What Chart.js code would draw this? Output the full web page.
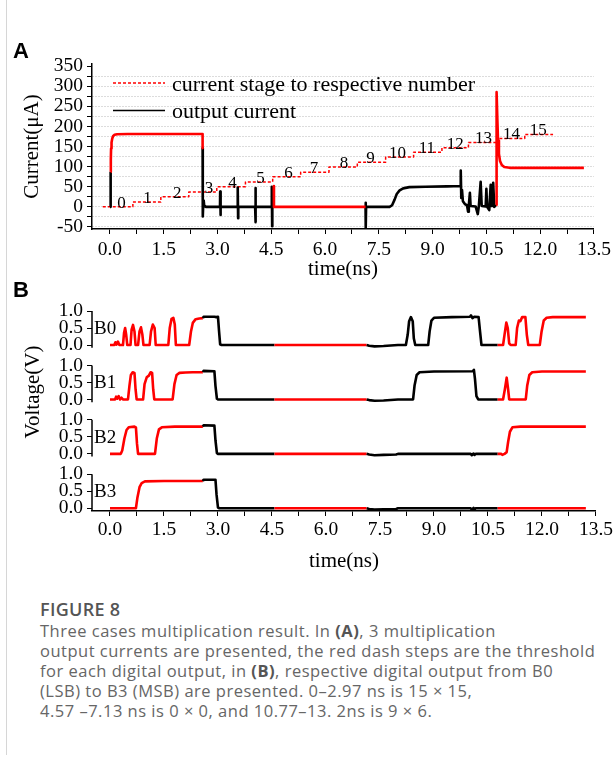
<!DOCTYPE html>
<html>
<head>
<meta charset="utf-8">
<script src="https://cdn.jsdelivr.net/npm/chart.js@4.4.1/dist/chart.umd.min.js"></script>
<style>
html,body{margin:0;padding:0;background:#fff;}
#wrap{position:relative;width:615px;height:760px;overflow:hidden;background:#fff;}
#cA{position:absolute;left:0;top:0;}
#cB{position:absolute;left:0;top:285px;}
.panel{position:absolute;font-family:"Liberation Sans",Arial,sans-serif;font-weight:bold;font-size:22px;line-height:22px;color:#000;}
#frameL{position:absolute;left:6px;top:0;width:1px;height:755px;background:#d6d6d6;}
#cap{position:absolute;left:40px;top:598px;font-family:"Open Sans","Noto Sans",sans-serif;color:#666;font-size:16.5px;letter-spacing:0.5px;line-height:20px;white-space:nowrap;}
#cap .fig{font-size:18px;line-height:22px;font-weight:600;color:#555;letter-spacing:0.3px;margin-bottom:1px;}
#cap b{color:#555;font-weight:700;}
</style>
</head>
<body>
<div id="wrap">
  <div id="frameL"></div>
  <canvas id="cA" width="615" height="290"></canvas>
  <canvas id="cB" width="615" height="300"></canvas>
  <div class="panel" style="left:13px;top:40px;">A</div>
  <div class="panel" style="left:13px;top:279px;">B</div>
  <div id="cap">
    <div class="fig">FIGURE 8</div>
    <div>Three cases multiplication result. In <b>(A)</b>, 3 multiplication</div>
    <div>output currents are presented, the red dash steps are the threshold</div>
    <div>for each digital output, in <b>(B)</b>, respective digital output from B0</div>
    <div>(LSB) to B3 (MSB) are presented. 0–2.97 ns is 15 × 15,</div>
    <div>4.57 –7.13 ns is 0 × 0, and 10.77–13. 2ns is 9 × 6.</div>
  </div>
</div>
<script>
// ---------- axis ticks ----------
const timeTicks = [0,0.75,1.5,2.25,3,3.75,4.5,5.25,6,6.75,7.5,8.25,9,9.75,10.5,11.25,12,12.75,13.5];
const currentTicks = [-50,-25,0,25,50,75,100,125,150,175,200,225,250,275,300,325,350];
const voltTicks = [0,0.5,1];

// ---------- panel A: threshold steps ----------
const stageNumbers = [0,1,2,3,4,5,6,7,8,9,10,11,12,13,14,15];
const stageLevels = [0,12,25,37,50,62,75,86,99,111,124,136,147,160,170,180];
const stageEdges = [-0.2,0.64,1.42,2.2,2.98,3.78,4.54,5.32,6.11,6.9,7.69,8.47,9.26,10.0,10.83,11.57,12.36];
const stageLabelTimes = [0.32,1.05,1.88,2.76,3.42,4.2,4.98,5.69,6.53,7.27,8.02,8.84,9.63,10.42,11.2,11.95];

// ---------- panel A: output current (time ns, current uA) ----------
const outputRedSegments = [
  [[0.02,87],[0.025,118],[0.032,145],[0.045,160],[0.065,170],[0.09,176],[0.13,179],[0.2,180.5],[0.5,181],[2.585,181],[2.585,146]],
  [[4.57,52],[4.575,0],[7.13,0]],
  [[10.77,5],[10.78,150],[10.79,285],[10.805,220],[10.825,165],[10.85,132],[10.88,114],[10.93,104],[11.0,99],[11.15,97],[13.22,97]]
];
const outputBlackSegments = [
  [[0,0],[0.02,0],[0.02,87]],
  [[2.585,146],[2.59,-24],[2.6,0],[2.615,16],[2.63,3],[2.68,0],[3.07,0],[3.075,38],[3.085,-20],[3.09,0],[3.56,0],[3.565,48],[3.575,-28],[3.58,0],[4.05,0],[4.055,47],[4.065,-38],[4.07,0],[4.51,0],[4.515,50],[4.525,-48],[4.53,0],[4.57,0]],
  [[7.13,0],[7.132,10],[7.138,-52],[7.145,0],[7.8,0],[7.87,4],[7.94,18],[8.0,32],[8.08,41],[8.18,46],[8.35,49],[8.8,50],[9.4,51],[9.78,52],[9.785,90],[9.8,22],[9.82,42],[9.845,14],[9.9,7],[9.96,4],[9.99,-12],[10.01,4],[10.04,35],[10.06,2],[10.2,1],[10.26,-18],[10.29,2],[10.34,62],[10.37,2],[10.48,1],[10.5,45],[10.52,0],[10.58,-8],[10.62,55],[10.65,2],[10.69,60],[10.72,0],[10.77,5]]
];

// ---------- panel B: digital outputs (time ns, voltage V) ----------
const bitNames = ['B0','B1','B2','B3'];
const bitRowOffsets = [4.8,3.2,1.6,0];
const blackWindows = [[2.58,4.57],[7.13,10.77]];
const bit0 = [[0,0],[0.12,0],[0.15,0.08],[0.18,0.01],[0.22,0.1],[0.26,0],[0.36,0],[0.39,0.35],[0.42,0.5],[0.45,0.3],[0.48,0],[0.57,0],[0.6,0.45],[0.64,0.59],[0.68,0.4],[0.71,0],[0.78,0],[0.82,0.4],[0.86,0.52],[0.9,0.3],[0.93,0],[1.1,0],[1.14,0.4],[1.19,0.6],[1.24,0.5],[1.27,0],[1.62,0],[1.66,0.5],[1.71,0.77],[1.76,0.8],[1.8,0.6],[1.83,0],[2.2,0],[2.25,0.4],[2.3,0.65],[2.38,0.76],[2.48,0.78],[2.58,0.79],[2.6,0.83],[2.9,0.83],[2.95,0.82],[3.0,0.83],[3.03,0.4],[3.06,0.02],[3.1,0],[4.57,0],[7.13,0],[7.2,-0.02],[7.35,-0.04],[7.6,-0.03],[8.0,0],[8.22,0],[8.27,0.3],[8.31,0.7],[8.36,0.82],[8.41,0.7],[8.44,0.2],[8.48,0],[8.84,0],[8.88,0.4],[8.93,0.72],[9.0,0.8],[9.5,0.82],[10.0,0.83],[10.03,0.87],[10.07,0.79],[10.12,0.83],[10.24,0.82],[10.28,0.4],[10.32,0],[10.77,0],[10.92,0],[10.96,0.3],[11.01,0.66],[11.05,0.5],[11.09,0.05],[11.13,0],[11.27,0],[11.31,0.5],[11.36,0.72],[11.4,0.7],[11.45,0.82],[11.54,0.82],[11.58,0.3],[11.62,0],[11.94,0],[11.99,0.4],[12.05,0.72],[12.13,0.8],[12.3,0.82],[13.22,0.82]];
const bit1 = [[0,0],[0.14,0],[0.17,0.08],[0.2,0.02],[0.24,0.1],[0.28,0],[0.32,0.05],[0.36,0],[0.5,0],[0.54,0.4],[0.58,0.72],[0.63,0.8],[0.68,0.78],[0.71,0.3],[0.74,0],[0.92,0],[0.96,0.45],[1.02,0.65],[1.08,0.7],[1.13,0.8],[1.17,0.78],[1.2,0.3],[1.23,0],[1.74,0],[1.79,0.45],[1.85,0.72],[1.93,0.78],[2.1,0.79],[2.3,0.8],[2.58,0.8],[2.6,0.84],[2.9,0.83],[2.93,0.4],[2.97,0.02],[3.0,0],[4.57,0],[7.13,0],[7.2,-0.02],[7.35,-0.04],[7.6,-0.03],[8.0,0],[8.42,0],[8.46,0.4],[8.52,0.72],[8.6,0.8],[9.0,0.82],[10.08,0.83],[10.11,0.87],[10.14,0.6],[10.18,0.1],[10.23,0],[10.77,0],[10.92,0],[10.97,0.3],[11.02,0.64],[11.06,0.3],[11.09,0],[11.55,0],[11.59,0.4],[11.65,0.72],[11.73,0.8],[12.0,0.82],[13.22,0.82]];
const bit2 = [[0,0],[0.3,0],[0.34,0.1],[0.4,0.45],[0.46,0.7],[0.52,0.78],[0.68,0.8],[0.72,0.78],[0.75,0.3],[0.78,0],[1.25,0],[1.3,0.45],[1.36,0.72],[1.44,0.78],[1.8,0.8],[2.58,0.8],[2.6,0.84],[2.9,0.83],[2.93,0.4],[2.97,0.02],[3.0,0],[4.57,0],[7.13,0],[7.2,-0.02],[7.35,-0.04],[7.6,-0.03],[7.95,-0.02],[8.0,0],[10.02,0],[10.05,-0.04],[10.1,0.01],[10.13,-0.03],[10.16,0],[10.77,0],[10.87,0],[10.9,-0.03],[10.96,0],[11.02,0.05],[11.06,0.35],[11.11,0.65],[11.18,0.78],[11.4,0.8],[13.22,0.8]];
const bit3 = [[0,0],[0.72,0],[0.76,0.3],[0.82,0.62],[0.88,0.74],[0.97,0.79],[1.5,0.8],[2.58,0.8],[2.6,0.84],[2.93,0.84],[2.96,0.4],[3.0,0.02],[3.04,0],[4.57,0],[7.13,0],[7.2,-0.02],[7.35,-0.04],[7.6,-0.03],[7.95,-0.02],[8.0,0],[10.02,0],[10.05,-0.04],[10.1,0.01],[10.13,-0.03],[10.16,0],[10.77,0],[13.22,0]];
const bitTraces = [bit0,bit1,bit2,bit3];

// ---------- helpers ----------
const SERIF = '"Liberation Serif","Times New Roman",serif';
const RED = '#ff0000', BLACK = '#000000';
const near = (a,b)=>Math.abs(a-b)<1e-6;
const isMajorTime = v => near(v/1.5, Math.round(v/1.5));
function joinSegments(segs){
  const out=[];
  segs.forEach((s,i)=>{
    if(i>0) out.push({x:s[0][0], y:null});
    s.forEach(p=>out.push({x:p[0], y:p[1]}));
  });
  return out;
}
function stageData(){
  const out=[];
  stageLevels.forEach((lv,i)=>{ out.push({x:stageEdges[i],y:lv}); out.push({x:stageEdges[i+1],y:lv}); });
  return out;
}
function inBlack(t){ return blackWindows.some(w=>t>=w[0]-1e-9 && t<=w[1]+1e-9); }

const timeAxis = (fitH, padBottom, tickPad) => ({
  type:'linear', min:-0.5, max:13.5,
  afterBuildTicks: s => { s.ticks = timeTicks.map(v=>({value:v})); },
  ticks:{autoSkip:false,maxRotation:0,minRotation:0,padding:tickPad,color:'#000',
         font:{family:SERIF,size:19.5},callback:v=>isMajorTime(v)?Number(v).toFixed(1):''},
  grid:{drawOnChartArea:false,drawTicks:true,tickLength:5,tickColor:'#000',tickWidth:1,color:'#000'},
  border:{display:true,color:'#000',width:1.5},
  title:{display:true,text:'time(ns)',color:'#000',font:{family:SERIF,size:21,lineHeight:1},padding:{top:0,bottom:padBottom}},
  afterFit: s => { s.height = fitH; }
});

// ---------- panel A plugins ----------
const stageLabelPlugin = {
  id:'stageLabels',
  afterDatasetsDraw(chart){
    const ctx=chart.ctx, xs=chart.scales.x, ys=chart.scales.y;
    ctx.save();
    ctx.fillStyle='#000'; ctx.font='17px '+SERIF; ctx.textAlign='center'; ctx.textBaseline='alphabetic';
    stageNumbers.forEach((n,i)=>{
      ctx.fillText(String(n), xs.getPixelForValue(stageLabelTimes[i]), ys.getPixelForValue(stageLevels[i])+1);
    });
    ctx.restore();
  }
};
const legendPlugin = {
  id:'legendA',
  afterDraw(chart){
    const ctx=chart.ctx, ca=chart.chartArea;
    const items = chart.data.datasets.filter(d=>d.legendRank).sort((a,b)=>a.legendRank-b.legendRank);
    items.forEach((d,i)=>{
      const y = ca.top + 19 + i*27.5;
      ctx.save();
      ctx.strokeStyle=d.borderColor; ctx.lineWidth=d.legendWidth; ctx.setLineDash(d.borderDash||[]);
      ctx.beginPath(); ctx.moveTo(ca.left+21,y); ctx.lineTo(ca.left+73,y); ctx.stroke();
      ctx.setLineDash([]);
      ctx.fillStyle='#000'; ctx.font='22px '+SERIF; ctx.textAlign='left'; ctx.textBaseline='middle';
      ctx.fillText(d.label, ca.left+80, y+2);
      ctx.restore();
    });
  }
};

new Chart(document.getElementById('cA'), {
  type:'line',
  data:{datasets:[
    {label:'output current (valid)', data:joinSegments(outputRedSegments), borderColor:RED, borderWidth:2.6, spanGaps:false},
    {label:'output current', data:joinSegments(outputBlackSegments), borderColor:BLACK, borderWidth:2.6, spanGaps:false, legendRank:2, legendWidth:1.6},
    {label:'current stage to respective number', data:stageData(), borderColor:RED, borderWidth:1.5, borderDash:[3,2], legendRank:1, legendWidth:1.5}
  ]},
  options:{
    responsive:false, animation:false, devicePixelRatio:1,
    layout:{padding:{top:64,right:19,left:0,bottom:0}},
    plugins:{legend:{display:false},tooltip:{enabled:false}},
    elements:{point:{radius:0,hoverRadius:0},line:{tension:0,borderJoinStyle:'round',borderCapStyle:'butt'}},
    scales:{
      x: timeAxis(61, 10, 4),
      y:{
        type:'linear', min:-55, max:355,
        afterBuildTicks: s => { s.ticks = currentTicks.map(v=>({value:v})); },
        ticks:{autoSkip:false,padding:4,color:'#000',font:{family:SERIF,size:19.5},callback:v=>(v%50===0)?String(v):''},
        grid:{drawOnChartArea:true,lineWidth:1,color:c=>(c.tick&&c.tick.value>=350)?'rgba(0,0,0,0)':'#b8b8b8',
              drawTicks:true,tickLength:5,tickColor:'#000',tickWidth:1,tickBorderDash:[]},
        border:{display:true,color:'#000',width:1.5,dash:[1,2]},
        title:{display:true,text:'Current(μA)',color:'#000',font:{family:SERIF,size:21,lineHeight:1},padding:{top:22,bottom:0}},
        afterFit: s => { s.width = 92; }
      }
    }
  },
  plugins:[stageLabelPlugin, legendPlugin]
});

// ---------- panel B ----------
const bitDecorPlugin = {
  id:'bitDecor',
  afterDraw(chart){
    const ctx=chart.ctx, ca=chart.chartArea, ys=chart.scales.y;
    ctx.save();
    ctx.strokeStyle='#000'; ctx.lineWidth=1.5;
    bitRowOffsets.forEach((off,i)=>{
      ctx.beginPath();
      ctx.moveTo(ca.left, ys.getPixelForValue(off-0.08));
      ctx.lineTo(ca.left, ys.getPixelForValue(off+1));
      ctx.stroke();
      ctx.fillStyle='#000'; ctx.font='19px '+SERIF; ctx.textAlign='left'; ctx.textBaseline='middle';
      ctx.fillText(bitNames[i], ca.left+2, ys.getPixelForValue(off+0.47));
    });
    ctx.translate(33, ca.top+81);
    ctx.rotate(-Math.PI/2);
    ctx.font='21px '+SERIF; ctx.textAlign='center'; ctx.textBaseline='middle'; ctx.fillStyle='#000';
    ctx.fillText('Voltage(V)',0,0);
    ctx.restore();
  }
};

new Chart(document.getElementById('cB'), {
  type:'line',
  data:{datasets: bitTraces.map((tr,i)=>({
    label:bitNames[i],
    data: tr.map(p=>({x:p[0], y:p[1]+bitRowOffsets[i]})),
    borderColor:RED, borderWidth:2.6,
    segment:{borderColor: c => inBlack((c.p0.parsed.x + c.p1.parsed.x)/2) ? BLACK : RED}
  }))},
  options:{
    responsive:false, animation:false, devicePixelRatio:1,
    layout:{padding:{top:26,right:19,left:0,bottom:0}},
    plugins:{legend:{display:false},tooltip:{enabled:false}},
    elements:{point:{radius:0,hoverRadius:0},line:{tension:0,borderJoinStyle:'round'}},
    scales:{
      x: timeAxis(74, 13.5, 2),
      y:{
        type:'linear', min:-0.08, max:5.8,
        afterBuildTicks: s => {
          const t=[]; bitRowOffsets.forEach(off=>voltTicks.forEach(v=>t.push({value:+(off+v).toFixed(3)})));
          t.sort((a,b)=>a.value-b.value); s.ticks=t;
        },
        ticks:{autoSkip:false,padding:4,color:'#000',font:{family:SERIF,size:19.5},
               callback:v=>{ const off=bitRowOffsets.find(o=>v>=o-1e-6 && v<=o+1+1e-6); return (v-off).toFixed(1); }},
        grid:{drawOnChartArea:false,drawTicks:true,tickLength:5,tickColor:'#000',tickWidth:1,color:'#000'},
        border:{display:false},
        afterFit: s => { s.width = 92; }
      }
    }
  },
  plugins:[bitDecorPlugin]
});
</script>
</body>
</html>
